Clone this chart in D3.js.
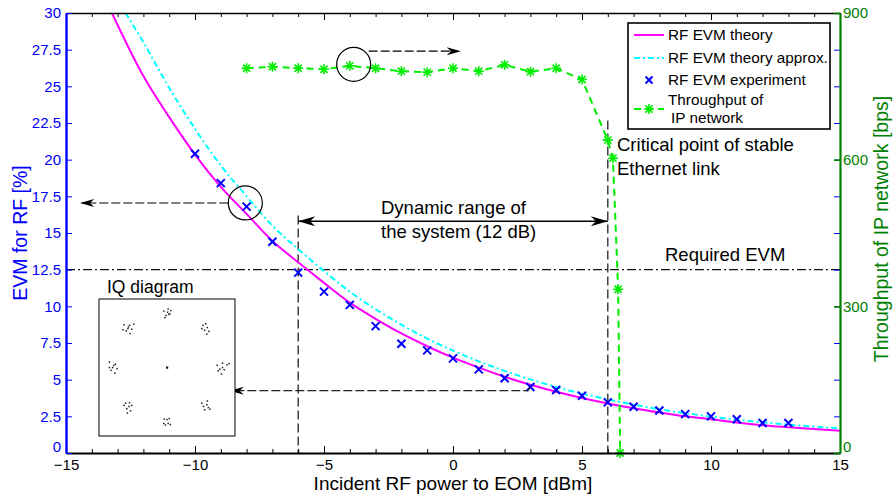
<!DOCTYPE html>
<html lang="en">
<head>
<meta charset="UTF-8">
<title>EVM and throughput vs incident RF power</title>
<script src="https://d3js.org/d3.v7.min.js"></script>
<style>
  body { margin: 0; background: #fff; }
  svg { display: block; font-family: "Liberation Sans", Arial, Helvetica, sans-serif; }
</style>
</head>
<body>
<svg id="chart" width="894" height="495"></svg>
<script>
// values (x in dBm, EVM in %, throughput in bps)
const theoryX = [-13.22, -12, -11, -10, -9, -8, -7, -6, -5, -4, -3, -2, -1, 0, 1, 2, 3, 4, 5, 6, 7, 8, 9, 10, 11, 12, 13, 14, 15];
const theoryEvm = [30, 25.7, 22.9, 20.35, 18.15, 16.3, 14.45, 13.0, 11.6, 10.25, 9.15, 8.15, 7.28, 6.5, 5.82, 5.2, 4.65, 4.17, 3.75, 3.38, 3.05, 2.76, 2.5, 2.3, 2.08, 1.9, 1.76, 1.63, 1.52];
const approxX = [-12.69, -12, -11, -10, -9, -8, -7, -6, -5, -4, -3, -2, -1, 0, 1, 2, 3, 4, 5, 6, 7, 8, 9, 10, 11, 12, 13, 14, 15];
const approxEvm = [30, 28.0, 24.9, 22.1, 19.6, 17.5, 15.5, 13.9, 12.4, 11.0, 9.8, 8.75, 7.8, 6.98, 6.25, 5.6, 5.02, 4.5, 4.05, 3.65, 3.3, 2.98, 2.72, 2.48, 2.27, 2.09, 1.93, 1.8, 1.68];
const expX = [-10, -9, -8, -7, -6, -5, -4, -3, -2, -1, 0, 1, 2, 3, 4, 5, 6, 7, 8, 9, 10, 11, 12, 13];
const expEvm = [20.4, 18.4, 16.8, 14.4, 12.3, 11.0, 10.1, 8.65, 7.45, 7.0, 6.45, 5.7, 5.1, 4.5, 4.3, 3.9, 3.45, 3.15, 2.9, 2.65, 2.5, 2.3, 2.05, 2.05];
const tputX = [-8, -7, -6, -5, -4, -3, -2, -1, 0, 1, 2, 3, 4, 5, 6, 6.2, 6.4, 6.48];
const tputBps = [787, 790, 787, 785, 792, 787, 781, 779, 787, 781, 794, 780, 787, 764, 640, 603, 335, 0];

const xTicks = [-15, -10, -5, 0, 5, 10, 15];
const evmTicks = [0, 2.5, 5, 7.5, 10, 12.5, 15, 17.5, 20, 22.5, 25, 27.5, 30];
const tputTicks = [0, 300, 600, 900];

const requiredEvm = 12.5;
const rangeLow = -6, rangeHigh = 6;

// inset constellation: ideal symbols and received-sample offsets
const iqSymI = [0, 0.71, 1, 0.71, 0, -0.71, -1, -0.71];
const iqSymQ = [1, 0.71, 0, -0.71, -1, -0.71, 0, 0.71];
const iqNoise = [
  [[-0.06, 0.03], [0.02, 0.07], [0.05, -0.02], [-0.02, -0.05], [0.07, 0.04], [-0.04, -0.09], [0.01, 0.01], [0.03, -0.03]],
  [[-0.05, 0.06], [0.03, 0.02], [0.06, -0.05], [-0.02, -0.03], [0.0, 0.09], [-0.07, 0.0], [0.02, -0.1]],
  [[-0.08, 0.04], [0.02, 0.08], [0.1, 0.05], [-0.03, -0.03], [0.05, -0.04], [-0.06, -0.06], [0.0, -0.12], [0.14, 0.07], [0.02, 0.0]],
  [[-0.07, 0.06], [0.03, 0.1], [0.05, -0.02], [-0.02, -0.06], [0.08, -0.05], [-0.04, 0.0], [0.02, 0.03]],
  [[-0.05, 0.06], [0.04, 0.07], [0.06, -0.04], [-0.03, -0.05], [0.02, -0.02], [-0.06, -0.02], [0.0, 0.05]],
  [[-0.08, 0.02], [0.02, 0.07], [0.06, 0.02], [-0.03, -0.04], [0.04, -0.08], [-0.05, 0.06], [0.01, 0.0], [-0.02, -0.12]],
  [[-0.06, 0.1], [0.02, 0.04], [0.08, -0.02], [-0.03, -0.05], [0.04, -0.1], [-0.06, 0.0], [0.0, 0.0], [0.05, 0.06]],
  [[-0.08, 0.07], [0.02, 0.06], [0.06, -0.01], [-0.04, -0.04], [0.1, 0.08], [-0.01, 0.0], [0.03, -0.09], [-0.1, -0.02], [0.0, 0.03]]
];

const svg = d3.select("#chart");
const mL = 66, mR = 840, mT = 13, mB = 453;

const x = d3.scaleLinear([-15, 15], [mL, mR]);
const yL = d3.scaleLinear([0, 30], [mB, mT]);
const yR = d3.scaleLinear([0, 900], [mB, mT]);

svg.append("defs").append("clipPath").attr("id", "plotclip")
  .append("rect").attr("x", mL).attr("y", mT).attr("width", mR - mL).attr("height", mB - mT);

const plot = svg.append("g").attr("clip-path", "url(#plotclip)");

// arrowhead helper (notched, matlab style)
function arrowHead(g, tipX, tipY, dir, len, half) {
  const p = d3.path();
  p.moveTo(tipX, tipY);
  p.lineTo(tipX - dir * len, tipY - half);
  p.lineTo(tipX - dir * len * 0.7, tipY);
  p.lineTo(tipX - dir * len, tipY + half);
  p.closePath();
  g.append("path").attr("d", p.toString()).attr("fill", "#000");
}

// required EVM line
plot.append("line")
  .attr("x1", mL).attr("x2", mR)
  .attr("y1", yL(requiredEvm)).attr("y2", yL(requiredEvm))
  .attr("stroke", "#111").attr("stroke-width", 1.4).attr("stroke-dasharray", "9,3,2,3");

// dynamic range verticals
const rangeTopEvm = 16.2;
plot.append("line")
  .attr("x1", x(rangeLow)).attr("x2", x(rangeLow))
  .attr("y1", yL(rangeTopEvm)).attr("y2", mB)
  .attr("stroke", "#222").attr("stroke-width", 1.3).attr("stroke-dasharray", "9,4");
plot.append("line")
  .attr("x1", x(rangeHigh)).attr("x2", x(rangeHigh))
  .attr("y1", yR(680)).attr("y2", mB)
  .attr("stroke", "#222").attr("stroke-width", 1.3).attr("stroke-dasharray", "9,4");

// theory curves
const lineEvm = (xs) => d3.line().x((d, i) => x(xs[i])).y(d => yL(d)).curve(d3.curveMonotoneX);
plot.append("path").datum(approxEvm)
  .attr("d", lineEvm(approxX)).attr("fill", "none")
  .attr("stroke", "#00ffff").attr("stroke-width", 2).attr("stroke-dasharray", "6,3,2,3");
plot.append("path").datum(theoryEvm)
  .attr("d", lineEvm(theoryX)).attr("fill", "none")
  .attr("stroke", "#ff00ff").attr("stroke-width", 2);

// experiment markers
function crossMark(g, cx, cy, r, color) {
  g.append("path")
    .attr("d", `M${cx - r},${cy - r}L${cx + r},${cy + r}M${cx - r},${cy + r}L${cx + r},${cy - r}`)
    .attr("stroke", color).attr("stroke-width", 2).attr("fill", "none");
}
expEvm.forEach((v, i) => crossMark(plot, x(expX[i]), yL(v), 4, "#0000ff"));

// throughput
function starMark(g, cx, cy, r, color) {
  const d = r * 0.72;
  g.append("path")
    .attr("d", `M${cx - r},${cy}L${cx + r},${cy}M${cx},${cy - r}L${cx},${cy + r}` +
               `M${cx - d},${cy - d}L${cx + d},${cy + d}M${cx - d},${cy + d}L${cx + d},${cy - d}`)
    .attr("stroke", color).attr("stroke-width", 1.6).attr("fill", "none");
}
const tputLine = d3.line().x((d, i) => x(tputX[i])).y(d => yR(d));
svg.append("path").datum(tputBps)
  .attr("d", tputLine).attr("fill", "none")
  .attr("stroke", "#00ee00").attr("stroke-width", 2).attr("stroke-dasharray", "7,5");
tputBps.forEach((v, i) => starMark(svg, x(tputX[i]), yR(v), 5, "#00ee00"));

// annotations
const ann = svg.append("g");
// double arrow for dynamic range
const arrowEvm = 15.8;
ann.append("line")
  .attr("x1", x(rangeLow)).attr("x2", x(rangeHigh))
  .attr("y1", yL(arrowEvm)).attr("y2", yL(arrowEvm))
  .attr("stroke", "#000").attr("stroke-width", 1.3);
arrowHead(ann, x(rangeLow), yL(arrowEvm), -1, 17, 5);
arrowHead(ann, x(rangeHigh), yL(arrowEvm), 1, 17, 5);

// circle on throughput curve -> right axis
const c1x = x(-3.85), c1y = yR(795);
ann.append("circle").attr("cx", c1x).attr("cy", c1y).attr("r", 17)
  .attr("fill", "none").attr("stroke", "#000").attr("stroke-width", 1.2);
ann.append("line").attr("x1", c1x + 15).attr("x2", x(0.2)).attr("y1", yR(822)).attr("y2", yR(822))
  .attr("stroke", "#000").attr("stroke-width", 1.1).attr("stroke-dasharray", "9,3");
arrowHead(ann, x(0.3), yR(822), 1, 14, 4);

// circle on EVM curve -> left axis
const c2x = x(-8.05), c2y = yL(17.05);
ann.append("circle").attr("cx", c2x).attr("cy", c2y).attr("r", 17)
  .attr("fill", "none").attr("stroke", "#000").attr("stroke-width", 1.2);
ann.append("line").attr("x1", c2x - 17).attr("x2", x(-14.4)).attr("y1", c2y).attr("y2", c2y)
  .attr("stroke", "#000").attr("stroke-width", 1.1).attr("stroke-dasharray", "9,3");
arrowHead(ann, x(-14.45), c2y, -1, 14, 4);

// IQ diagram pointer
ann.append("path")
  .attr("d", `M${x(3)},${yL(4.5)}L${x(2.9)},${yL(4.25)}L${x(-8.6)},${yL(4.25)}`)
  .attr("fill", "none").attr("stroke", "#222").attr("stroke-width", 1.2).attr("stroke-dasharray", "9,3");
arrowHead(ann, x(-8.65), yL(4.25), -1, 14, 4);

// texts
const txt = (s, tx, ty, size, anchor) => ann.append("text")
  .attr("x", tx).attr("y", ty).attr("font-size", size).attr("text-anchor", anchor || "start")
  .attr("fill", "#000").text(s);
txt("Dynamic range of", 381, 214, 18.5);
txt("the system (12 dB)", 381, 238, 18.5);
txt("Critical point of stable", 617, 151, 18.5);
txt("Ethernet link", 617, 175, 18.5);
txt("Required EVM", 665, 261, 18.5);
txt("IQ diagram", 107, 293, 17.5);

// IQ inset
const iqBox = { x: 99, y: 299, w: 136, h: 137 };
const iqX = d3.scaleLinear([-1.25, 1.25], [iqBox.x, iqBox.x + iqBox.w]);
const iqY = d3.scaleLinear([-1.25, 1.25], [iqBox.y + iqBox.h, iqBox.y]);
const iq = svg.append("g");
iq.append("rect").attr("x", iqBox.x).attr("y", iqBox.y).attr("width", iqBox.w).attr("height", iqBox.h)
  .attr("fill", "#fff").attr("stroke", "#000").attr("stroke-width", 1);
iqSymI.forEach((si, k) => {
  iqNoise[k].forEach(([di, dq]) => {
    iq.append("rect")
      .attr("x", iqX(si + di) - 0.7).attr("y", iqY(iqSymQ[k] + dq) - 0.7)
      .attr("width", 1.5).attr("height", 1.5).attr("fill", "#222");
  });
});
iq.append("rect").attr("x", iqX(0) - 1).attr("y", iqY(0) - 1).attr("width", 2.2).attr("height", 2.2).attr("fill", "#111");

// axes
const axes = svg.append("g").attr("font-size", 15);

const xMinor = x.ticks(30);
axes.append("g").attr("transform", `translate(0,${mB})`)
  .call(d3.axisBottom(x).tickValues(xMinor).tickSize(-4).tickSizeOuter(0).tickFormat(""))
  .call(g => g.select(".domain").remove());
axes.append("g").attr("transform", `translate(0,${mT})`)
  .call(d3.axisTop(x).tickValues(xMinor).tickSize(-4).tickSizeOuter(0).tickFormat(""))
  .call(g => g.select(".domain").remove());
axes.append("g").attr("transform", `translate(0,${mT})`)
  .call(d3.axisTop(x).tickValues(xTicks).tickSize(-7).tickSizeOuter(0).tickFormat(""))
  .call(g => g.select(".domain").attr("stroke-width", 1.5));
axes.append("g").attr("transform", `translate(0,${mB})`)
  .call(d3.axisBottom(x).tickValues(xTicks).tickSize(-7).tickSizeOuter(0).tickPadding(6))
  .call(g => g.select(".domain").attr("stroke-width", 2))
  .call(g => g.selectAll("text").attr("font-size", 15));

// mirrored left ticks on the right side
axes.append("g").attr("transform", `translate(${mR},0)`).attr("color", "#0000ff")
  .call(d3.axisRight(yL).tickValues(evmTicks).tickSize(-6).tickSizeOuter(0).tickFormat(""))
  .call(g => g.select(".domain").remove());

axes.append("g").attr("transform", `translate(${mL},0)`).attr("color", "#0000ff")
  .call(d3.axisLeft(yL).tickValues(evmTicks).tickSize(-6).tickSizeOuter(0).tickPadding(5).tickFormat(d3.format("")))
  .call(g => g.select(".domain").attr("stroke-width", 2.4))
  .call(g => g.selectAll("text").attr("font-size", 15))
  .call(g => g.selectAll(".tick text").filter(d => d === 0).attr("dy", "-0.12em"));

axes.append("g").attr("transform", `translate(${mR},0)`).attr("color", "#008000")
  .call(d3.axisRight(yR).tickValues(tputTicks).tickSize(-6).tickSizeOuter(0).tickPadding(3))
  .call(g => g.select(".domain").attr("stroke-width", 2.2))
  .call(g => g.selectAll(".tick line").attr("stroke-width", 1.6))
  .call(g => g.selectAll("text").attr("font-size", 15))
  .call(g => g.selectAll(".tick text").filter(d => d === 0).attr("dy", "-0.12em"));

// axis titles
svg.append("text").attr("x", (mL + mR) / 2).attr("y", 490).attr("text-anchor", "middle")
  .attr("font-size", 19).attr("fill", "#000").text("Incident RF power to EOM [dBm]");
svg.append("text").attr("transform", `translate(27,${(mT + mB) / 2}) rotate(-90)`)
  .attr("text-anchor", "middle").attr("font-size", 19.5).attr("fill", "#0000ff").text("EVM for RF [%]");
svg.append("text").attr("transform", `translate(888,229) rotate(-90)`)
  .attr("text-anchor", "middle").attr("font-size", 19.5).attr("fill", "#008000").text("Throughput of IP network [bps]");

// legend
const lg = svg.append("g");
lg.append("rect").attr("x", 628).attr("y", 23).attr("width", 202).attr("height", 106)
  .attr("fill", "#fff").attr("stroke", "#000").attr("stroke-width", 1.6);
const lx0 = 634, lx1 = 664, ltx = 668;
const rows = [35, 58, 80, 109];
lg.append("line").attr("x1", lx0).attr("x2", lx1).attr("y1", rows[0]).attr("y2", rows[0])
  .attr("stroke", "#ff00ff").attr("stroke-width", 2);
lg.append("line").attr("x1", lx0).attr("x2", lx1).attr("y1", rows[1]).attr("y2", rows[1])
  .attr("stroke", "#00ffff").attr("stroke-width", 2).attr("stroke-dasharray", "6,3,2,3");
crossMark(lg, (lx0 + lx1) / 2, rows[2], 3.5, "#0000ff");
lg.append("line").attr("x1", lx0).attr("x2", lx1).attr("y1", rows[3]).attr("y2", rows[3])
  .attr("stroke", "#00ee00").attr("stroke-width", 2).attr("stroke-dasharray", "7,5");
starMark(lg, (lx0 + lx1) / 2, rows[3], 5, "#00ee00");
const ltxt = (s, tx, ty) => lg.append("text").attr("x", tx).attr("y", ty).attr("font-size", 15.3)
  .attr("fill", "#000").text(s);
ltxt("RF EVM theory", ltx, rows[0] + 5);
ltxt("RF EVM theory approx.", ltx, rows[1] + 5);
ltxt("RF EVM experiment", ltx, rows[2] + 5);
ltxt("Throughput of", ltx, 105);
ltxt("IP network", ltx + 3, 123);
</script>
</body>
</html>
